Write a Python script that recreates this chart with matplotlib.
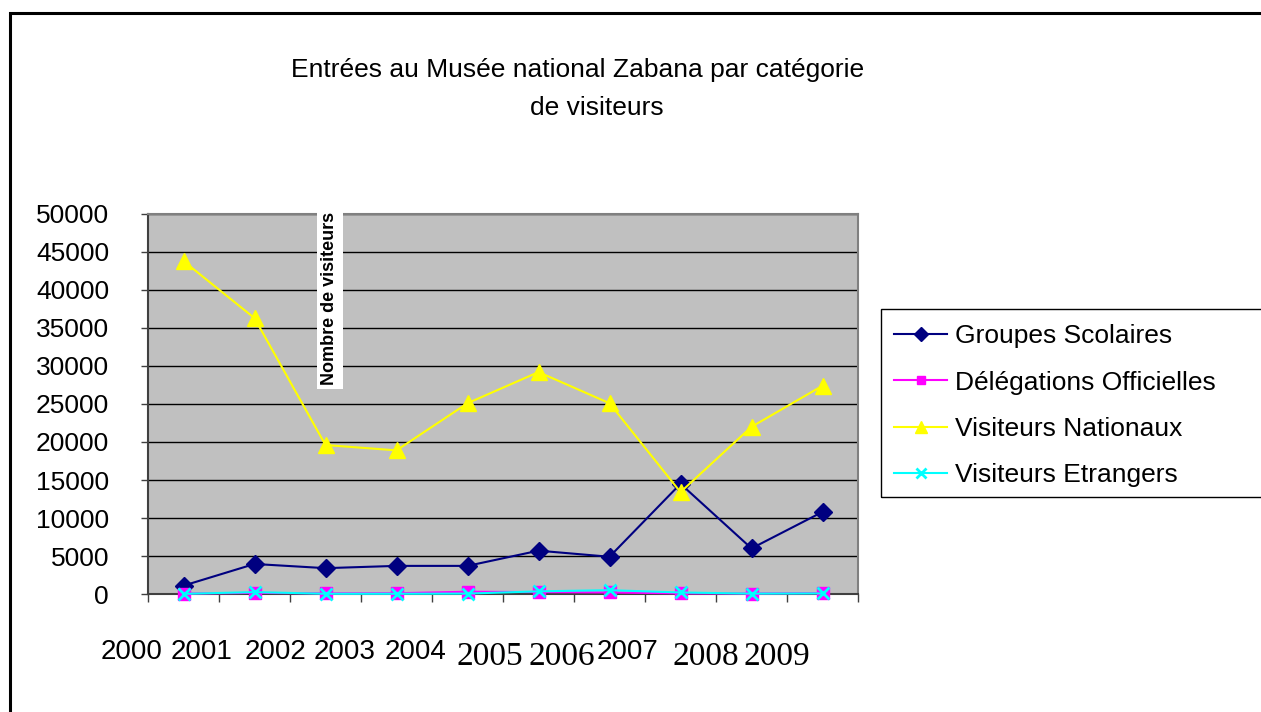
import matplotlib
matplotlib.use('Agg')
import matplotlib.pyplot as plt
from matplotlib.patches import Rectangle
from matplotlib.transforms import blended_transform_factory

# data
years = ['2000', '2001', '2002', '2003', '2004', '2005', '2006', '2007', '2008', '2009']
groupes = [1100, 3950, 3400, 3700, 3700, 5700, 4900, 14500, 6000, 10800]
delegations = [50, 150, 80, 100, 300, 250, 200, 80, 60, 120]
nationaux = [43800, 36300, 19600, 18900, 25100, 29200, 25100, 13400, 22000, 27400]
etrangers = [20, 250, 30, 30, 50, 350, 500, 200, 50, 80]

# the year labels sit loosely under the axis, some in a serif face
label_x = [-0.725, 0.26, 1.29, 2.27, 3.27, 4.32, 5.33, 6.26, 7.35, 8.35]
label_serif = [False, False, False, False, False, True, True, False, True, True]

W, H = 1261, 712
fig = plt.figure(figsize=(W / 100, H / 100), dpi=100)
fig.patch.set_facecolor('white')

# outer frame
fig.patches.append(Rectangle((10 / W, -0.05), 1.2, 1 - 13 / H + 0.05,
                             transform=fig.transFigure, fill=False,
                             edgecolor='black', linewidth=2.2))

ax = fig.add_axes([148 / W, 1 - 594 / H, 710 / W, 380 / H])
ax.set_facecolor('#C0C0C0')

x = list(range(len(years)))
ax.plot(x, groupes, color='#000080', marker='D', markersize=9, linewidth=1.5,
        label='Groupes Scolaires', clip_on=False, zorder=3)
ax.plot(x, delegations, color='#FF00FF', marker='s', markersize=8, linewidth=1.5,
        label='Délégations Officielles', clip_on=False, zorder=3)
ax.plot(x, nationaux, color='#FFFF00', marker='^', markersize=11, linewidth=1.5,
        label='Visiteurs Nationaux', clip_on=False, zorder=3)
ax.plot(x, etrangers, color='#00FFFF', marker='x', markersize=9, markeredgewidth=2,
        linewidth=1.5, label='Visiteurs Etrangers', clip_on=False, zorder=3)

ax.set_xlim(-0.5, len(years) - 0.5)
ax.set_ylim(0, 50000)
ax.set_yticks(range(0, 50001, 5000))
ax.set_yticklabels([str(v) for v in range(0, 50001, 5000)],
                   fontsize=19, family='Liberation Sans')
ax.set_xticks([i - 0.5 for i in range(len(years) + 1)])
ax.set_xticklabels([])
ax.tick_params(axis='y', direction='out', length=5, width=1, pad=23, colors='#404040',
               labelcolor='black')
ax.tick_params(axis='x', direction='out', length=6, width=1, colors='#404040')
ax.yaxis.grid(True, color='black', linewidth=1)
ax.set_axisbelow(True)
for side in ['left', 'bottom']:
    ax.spines[side].set_color('#404040')
    ax.spines[side].set_linewidth(1.5)
for side in ['top', 'right']:
    ax.spines[side].set_color('#808080')
    ax.spines[side].set_linewidth(1.5)

# year labels under the axis
trans = blended_transform_factory(ax.transData, fig.transFigure)
for lx, yr, serif in zip(label_x, years, label_serif):
    if serif:
        ax.text(lx, 1 - 657 / H, yr, transform=trans, ha='center', va='center',
                fontsize=24, family='Liberation Serif')
    else:
        ax.text(lx, 1 - 652 / H, yr, transform=trans, ha='center', va='center',
                fontsize=20, family='Liberation Sans')

# y axis title, boxed in white
fig.text(330 / W, 1 - 298 / H, 'Nombre de visiteurs', rotation=90, ha='center', va='center',
         fontsize=13, fontweight='bold', family='Liberation Sans',
         bbox=dict(facecolor='white', edgecolor='none', pad=3))

# title
fig.text(578 / W, 1 - 70 / H, 'Entrées au Musée national Zabana par catégorie',
         ha='center', va='center', fontsize=19, family='Liberation Sans')
fig.text(597 / W, 1 - 108 / H, 'de visiteurs',
         ha='center', va='center', fontsize=19, family='Liberation Sans')

# legend box running off the right edge
fig.patches.append(Rectangle((881 / W, 1 - 497 / H), 1.0, 188 / H,
                             transform=fig.transFigure, fill=False,
                             edgecolor='black', linewidth=1))
handles, labels = ax.get_legend_handles_labels()
fig.legend(handles, labels, loc='upper left', bbox_to_anchor=(876 / W, 1 - 306 / H),
           frameon=False, prop={'family': 'Liberation Sans', 'size': 19},
           handlelength=2.0, handletextpad=0.3, labelspacing=0.84, borderpad=0.2,
           markerscale=0.8)

fig.savefig('out.png', dpi=100)
